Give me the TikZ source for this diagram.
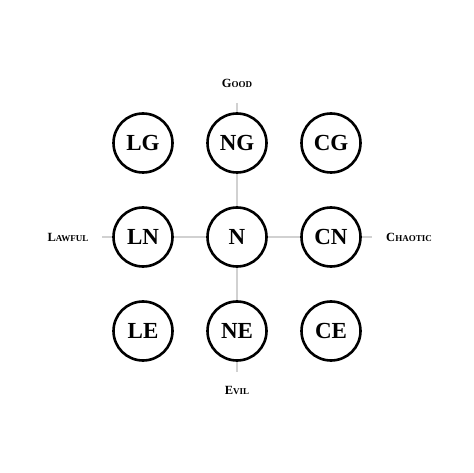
\documentclass[tikz,border=0pt]{standalone}
\usepackage{fontspec}
\setmainfont{Liberation Serif}
\usepackage{tikz}

\newcommand{\fsc}[2]{#1{\fontsize{9}{10}\selectfont #2}}

\tikzset{
  align/.style={circle,draw=black,line width=2.6pt,fill=white,minimum size=59pt,inner sep=0pt,font=\fontsize{23}{26}\selectfont\bfseries},
  axis/.style={font=\fontsize{12.5}{14}\selectfont\bfseries},
  axisline/.style={draw=black!18,line width=1.8pt}
}

\begin{document}
\begin{tikzpicture}[x=1pt,y=-1pt]
\useasboundingbox[fill=white] (0,0) rectangle (474,473);
\coordinate (top) at (237,103);
\coordinate (bot) at (237,372);
\coordinate (lft) at (102,237);
\coordinate (rgt) at (372,237);
\draw[axisline] (top) -- (bot);
\draw[axisline] (lft) -- (rgt);
\node[align] (LG) at (143,143){LG};
\node[align] (NG) at (237,143){NG};
\node[align] (CG) at (331,143){CG};
\node[align] (LN) at (143,237){LN};
\node[align] (N)  at (237,237){N};
\node[align] (CN) at (331,237){CN};
\node[align] (LE) at (143,331){LE};
\node[align] (NE) at (237,331){NE};
\node[align] (CE) at (331,331){CE};
\node[axis] (good)    at (237,83){\fsc{G}{OOD}};
\node[axis] (evil)    at (237,390){\fsc{E}{VIL}};
\node[axis] (lawful)  at (68,237){\fsc{L}{AWFUL}};
\node[axis] (chaotic) at (409,237){\fsc{C}{HAOTIC}};
\end{tikzpicture}
\end{document}
